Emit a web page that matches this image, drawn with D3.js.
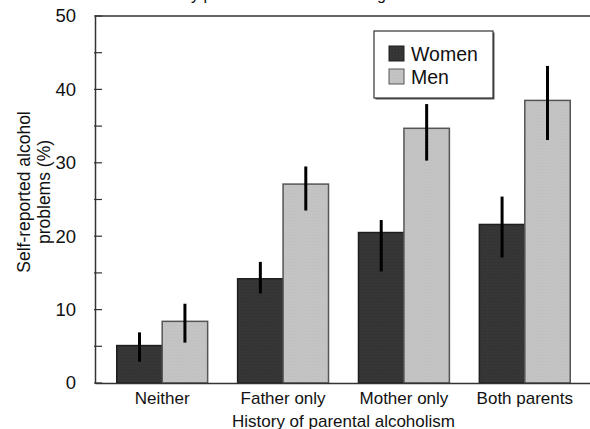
<!DOCTYPE html>
<html>
<head>
<meta charset="utf-8">
<script src="https://cdn.jsdelivr.net/npm/d3@7"></script>
<style>
  body { margin: 0; background: #fff; }
  svg text { font-family: "Liberation Sans", Arial, sans-serif; }
</style>
</head>
<body>
<div id="chart"></div>
<script>
// data
const categories = ['Neither', 'Father only', 'Mother only', 'Both parents'];
const series = ['Women', 'Men'];
const women = [5.1, 14.2, 20.5, 21.6];
const womenLow = [2.9, 12.2, 15.2, 17.1];
const womenHigh = [6.9, 16.5, 22.2, 25.4];
const men = [8.4, 27.1, 34.7, 38.5];
const menLow = [5.5, 23.5, 30.3, 33.1];
const menHigh = [10.8, 29.5, 38.0, 43.2];
const yTicks = [0, 10, 20, 30, 40, 50];

const width = 590, height = 429;
const margin = { top: 16, right: -2, bottom: 46, left: 95 };
const w = width - margin.left - margin.right;
const h = height - margin.top - margin.bottom;

const svg = d3.select('#chart').append('svg')
  .attr('width', width)
  .attr('height', height);

const defs = svg.append('defs');
function dither(id, base, dot) {
  const p = defs.append('pattern')
    .attr('id', id)
    .attr('width', 3).attr('height', 3)
    .attr('patternUnits', 'userSpaceOnUse');
  p.append('rect').attr('width', 3).attr('height', 3).attr('fill', base);
  p.append('rect').attr('x', 0).attr('y', 0).attr('width', 1).attr('height', 1).attr('fill', dot);
  p.append('rect').attr('x', 1.5).attr('y', 1.5).attr('width', 1).attr('height', 1).attr('fill', dot);
}
dither('womenFill', '#383838', '#2a2a2a');
dither('menFill', '#c6c6c6', '#b8b8b8');

const fills = { Women: 'url(#womenFill)', Men: 'url(#menFill)' };
const strokes = { Women: '#1e1e1e', Men: '#555' };

// title, cut by the top edge as in the source image
const title = svg.append('text')
  .attr('y', 0)
  .style('font-size', '16px')
  .attr('fill', '#111')
  .text('Alcohol abuse by parental alcoholism and gender');
const idx = title.text().indexOf('by') + 1;
title.attr('x', 191 - title.node().getSubStringLength(0, idx));

const g = svg.append('g')
  .attr('transform', `translate(${margin.left},${margin.top})`);

const x0 = d3.scaleBand()
  .domain(categories)
  .range([0, w])
  .paddingInner(0.248)
  .paddingOuter(0.18);

const x1 = d3.scaleBand()
  .domain(series)
  .range([0, x0.bandwidth()]);

const y = d3.scaleLinear()
  .domain([0, 50])
  .range([h, 0]);

// frame top line
g.append('line')
  .attr('x1', 0).attr('x2', w + 10)
  .attr('y1', y(50)).attr('y2', y(50))
  .attr('stroke', '#333').attr('stroke-width', 1.5);

// y axis, ticks drawn inward below
const yAxis = g.append('g')
  .attr('font-family', null)
  .call(d3.axisLeft(y).tickValues(yTicks).tickSize(0).tickPadding(19));
yAxis.attr('font-family', null);
yAxis.select('.domain').attr('stroke', '#333').attr('stroke-width', 1.5);
yAxis.selectAll('text').style('font-size', '18.5px').attr('fill', '#111');

g.append('g')
  .selectAll('line')
  .data(d3.range(0, 51, 5))
  .join('line')
  .attr('x1', -1).attr('x2', 7)
  .attr('y1', d => y(d)).attr('y2', d => y(d))
  .attr('stroke', '#333').attr('stroke-width', 1.2);

// bars
const rows = categories.map((c, i) => ({
  cat: c,
  vals: [
    { s: 'Women', v: women[i], lo: womenLow[i], hi: womenHigh[i] },
    { s: 'Men', v: men[i], lo: menLow[i], hi: menHigh[i] }
  ]
}));

const groups = g.append('g')
  .selectAll('g')
  .data(rows)
  .join('g')
  .attr('transform', d => `translate(${x0(d.cat)},0)`);

groups.selectAll('rect')
  .data(d => d.vals)
  .join('rect')
  .attr('x', d => x1(d.s))
  .attr('y', d => y(d.v))
  .attr('width', x1.bandwidth())
  .attr('height', d => y(0) - y(d.v))
  .attr('fill', d => fills[d.s])
  .attr('stroke', d => strokes[d.s])
  .attr('stroke-width', 1.5);

groups.selectAll('line.err')
  .data(d => d.vals)
  .join('line')
  .attr('class', 'err')
  .attr('x1', d => x1(d.s) + x1.bandwidth() / 2)
  .attr('x2', d => x1(d.s) + x1.bandwidth() / 2)
  .attr('y1', d => y(d.lo))
  .attr('y2', d => y(d.hi))
  .attr('stroke', '#000')
  .attr('stroke-width', 3);

// x axis
const xAxis = g.append('g')
  .attr('transform', `translate(0,${h})`)
  .call(d3.axisBottom(x0).tickSize(0).tickPadding(9));
xAxis.attr('font-family', null);
xAxis.select('.domain').attr('stroke', '#333').attr('stroke-width', 1.5);
xAxis.selectAll('text').style('font-size', '17px').attr('fill', '#111');

// axis titles
svg.append('text')
  .attr('x', margin.left + w / 2)
  .attr('y', 427)
  .attr('text-anchor', 'middle')
  .style('font-size', '17px')
  .attr('fill', '#111')
  .text('History of parental alcoholism');

const yt = svg.append('text')
  .attr('transform', 'translate(33,192) rotate(-90)')
  .attr('text-anchor', 'middle')
  .style('font-size', '17.5px')
  .attr('fill', '#111');
yt.append('tspan').attr('x', 0).attr('dy', '-0.2em').text('Self-reported alcohol');
yt.append('tspan').attr('x', 0).attr('dy', '1.15em').text('problems (%)');

// legend
const lg = svg.append('g').attr('transform', 'translate(374,31)');
lg.append('rect')
  .attr('x', 1.5).attr('y', 1.5)
  .attr('width', 119).attr('height', 67)
  .attr('fill', '#555');
lg.append('rect')
  .attr('width', 119).attr('height', 67)
  .attr('fill', '#fff')
  .attr('stroke', '#333').attr('stroke-width', 1.2);

const items = lg.selectAll('g.item')
  .data(series)
  .join('g')
  .attr('class', 'item')
  .attr('transform', (d, i) => `translate(15,${15 + i * 23})`);
items.append('rect')
  .attr('width', 15).attr('height', 15)
  .attr('fill', d => fills[d])
  .attr('stroke', d => strokes[d]).attr('stroke-width', 1);
items.append('text')
  .attr('x', 22).attr('y', 14.5)
  .style('font-size', '19.5px')
  .attr('fill', '#111')
  .text(d => d);
</script>
</body>
</html>
